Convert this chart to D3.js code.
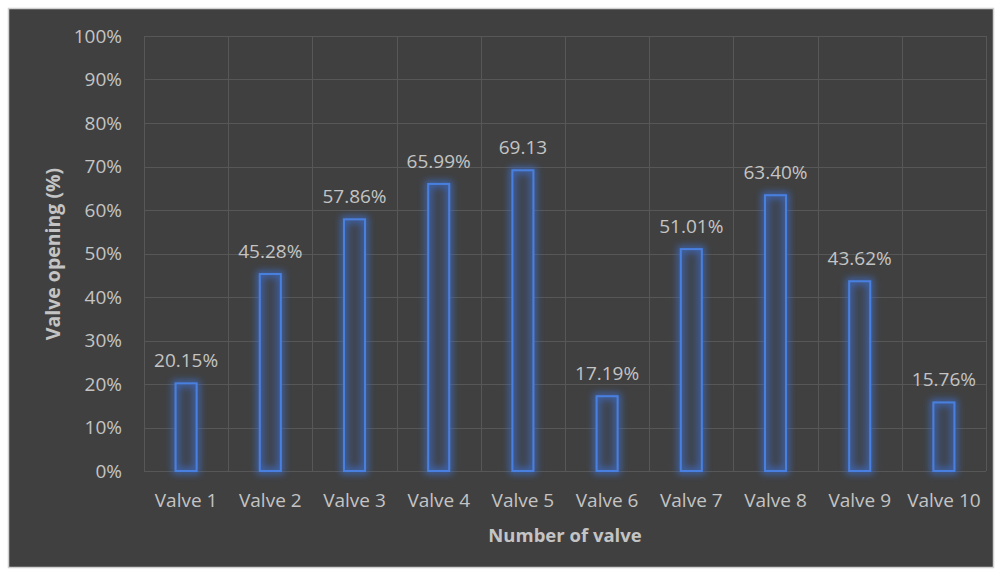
<!DOCTYPE html>
<html>
<head>
<meta charset="utf-8">
<script src="https://cdn.jsdelivr.net/npm/d3@7"></script>
<style>
  html, body { margin: 0; padding: 0; background: #ffffff; }
  svg { display: block; }
  text { font-family: "Open Sans", "Liberation Sans", sans-serif; }
</style>
</head>
<body>
<svg id="chart" width="1000" height="574"></svg>
<script>
// Valve opening per valve
const categories = ["Valve 1", "Valve 2", "Valve 3", "Valve 4", "Valve 5",
                    "Valve 6", "Valve 7", "Valve 8", "Valve 9", "Valve 10"];
const openings = [20.15, 45.28, 57.86, 65.99, 69.13, 17.19, 51.01, 63.40, 43.62, 15.76];
const valueLabels = ["20.15%", "45.28%", "57.86%", "65.99%", "69.13",
                     "17.19%", "51.01%", "63.40%", "43.62%", "15.76%"];
const yTicks = [0, 10, 20, 30, 40, 50, 60, 70, 80, 90, 100];

const svg = d3.select("#chart");
const W = 1000, H = 574;
const textColor = "#c4c4c4";
const fontFamily = "'Open Sans', 'Liberation Sans', sans-serif";

// chart frame
svg.append("rect")
  .attr("x", 8.5).attr("y", 8.5)
  .attr("width", W - 15).attr("height", H - 15)
  .attr("fill", "#404040")
  .attr("stroke", "#d0d0d0").attr("stroke-width", 1.5);

const plot = { left: 144, right: 986, top: 36, bottom: 471 };

const x = d3.scaleBand()
  .domain(categories)
  .range([plot.left, plot.right])
  .paddingInner(0.75).paddingOuter(0.375);

const xCat = d3.scaleBand().domain(categories).range([plot.left, plot.right]);

const y = d3.scaleLinear().domain([0, 100]).range([plot.bottom, plot.top]);

// soft blue glow around the bar outlines
const defs = svg.append("defs");
const glow = defs.append("filter").attr("id", "glow")
  .attr("x", "-100%").attr("y", "-30%").attr("width", "300%").attr("height", "160%");
glow.append("feMorphology").attr("in", "SourceAlpha").attr("operator", "dilate").attr("radius", 2).attr("result", "fat");
glow.append("feGaussianBlur").attr("in", "fat").attr("stdDeviation", 3.5).attr("result", "blur");
glow.append("feFlood").attr("flood-color", "#3d6cc4").attr("flood-opacity", 0.85).attr("result", "col");
glow.append("feComposite").attr("in", "col").attr("in2", "blur").attr("operator", "in").attr("result", "halo");
const merge = glow.append("feMerge");
merge.append("feMergeNode").attr("in", "halo");
merge.append("feMergeNode").attr("in", "SourceGraphic");

const gridColor = "#575757";

// horizontal gridlines
svg.append("g")
  .selectAll("line")
  .data(yTicks)
  .join("line")
  .attr("x1", plot.left).attr("x2", plot.right)
  .attr("y1", d => Math.round(y(d)) + 0.5).attr("y2", d => Math.round(y(d)) + 0.5)
  .attr("stroke", gridColor).attr("stroke-width", 1);

// vertical gridlines at category boundaries
const bounds = categories.map(c => xCat(c)).concat([plot.right]);
svg.append("g")
  .selectAll("line")
  .data(bounds)
  .join("line")
  .attr("x1", d => Math.round(d) + 0.5).attr("x2", d => Math.round(d) + 0.5)
  .attr("y1", plot.top).attr("y2", plot.bottom)
  .attr("stroke", gridColor).attr("stroke-width", 1);

// y axis tick labels
const yAxis = d3.axisLeft(y).tickValues(yTicks).tickFormat(d => d + "%").tickSize(0).tickPadding(22);
const gy = svg.append("g").attr("transform", `translate(${plot.left},0)`).call(yAxis);
gy.select(".domain").remove();
gy.selectAll("text").attr("fill", textColor).style("font-size", "19px")
  .style("font-family", fontFamily);

// x axis category labels
const xAxis = d3.axisBottom(xCat).tickSize(0).tickPadding(23);
const gx = svg.append("g").attr("transform", `translate(0,${plot.bottom})`).call(xAxis);
gx.select(".domain").remove();
gx.selectAll("text").attr("fill", textColor).style("font-size", "19px")
  .style("font-family", fontFamily);

// bars: dark fill inside a glowing blue outline
const barGroup = svg.append("g");
barGroup.selectAll("rect.fill")
  .data(openings)
  .join("rect")
  .attr("class", "fill")
  .attr("x", (d, i) => x(categories[i]))
  .attr("y", d => y(d))
  .attr("width", x.bandwidth())
  .attr("height", d => y(0) - y(d))
  .attr("fill", "#3f4552");
barGroup.selectAll("rect.outline")
  .data(openings)
  .join("rect")
  .attr("class", "outline")
  .attr("x", (d, i) => x(categories[i]))
  .attr("y", d => y(d))
  .attr("width", x.bandwidth())
  .attr("height", d => y(0) - y(d))
  .attr("fill", "none")
  .attr("stroke", "#4a80e0")
  .attr("stroke-width", 2)
  .attr("filter", "url(#glow)");

// value labels
svg.append("g")
  .selectAll("text")
  .data(openings)
  .join("text")
  .attr("x", (d, i) => x(categories[i]) + x.bandwidth() / 2)
  .attr("y", d => y(d) - 16)
  .attr("text-anchor", "middle")
  .attr("fill", textColor)
  .style("font-size", "19px")
  .text((d, i) => valueLabels[i]);

// axis titles
svg.append("text")
  .attr("x", 565)
  .attr("y", 542)
  .attr("text-anchor", "middle")
  .attr("fill", textColor)
  .style("font-size", "18.5px").style("font-weight", "bold")
  .text("Number of valve");

svg.append("text")
  .attr("transform", `translate(60,${254}) rotate(-90)`)
  .attr("text-anchor", "middle")
  .attr("fill", textColor)
  .style("font-size", "19.5px").style("font-weight", "bold")
  .text("Valve opening (%)");
</script>
</body>
</html>
